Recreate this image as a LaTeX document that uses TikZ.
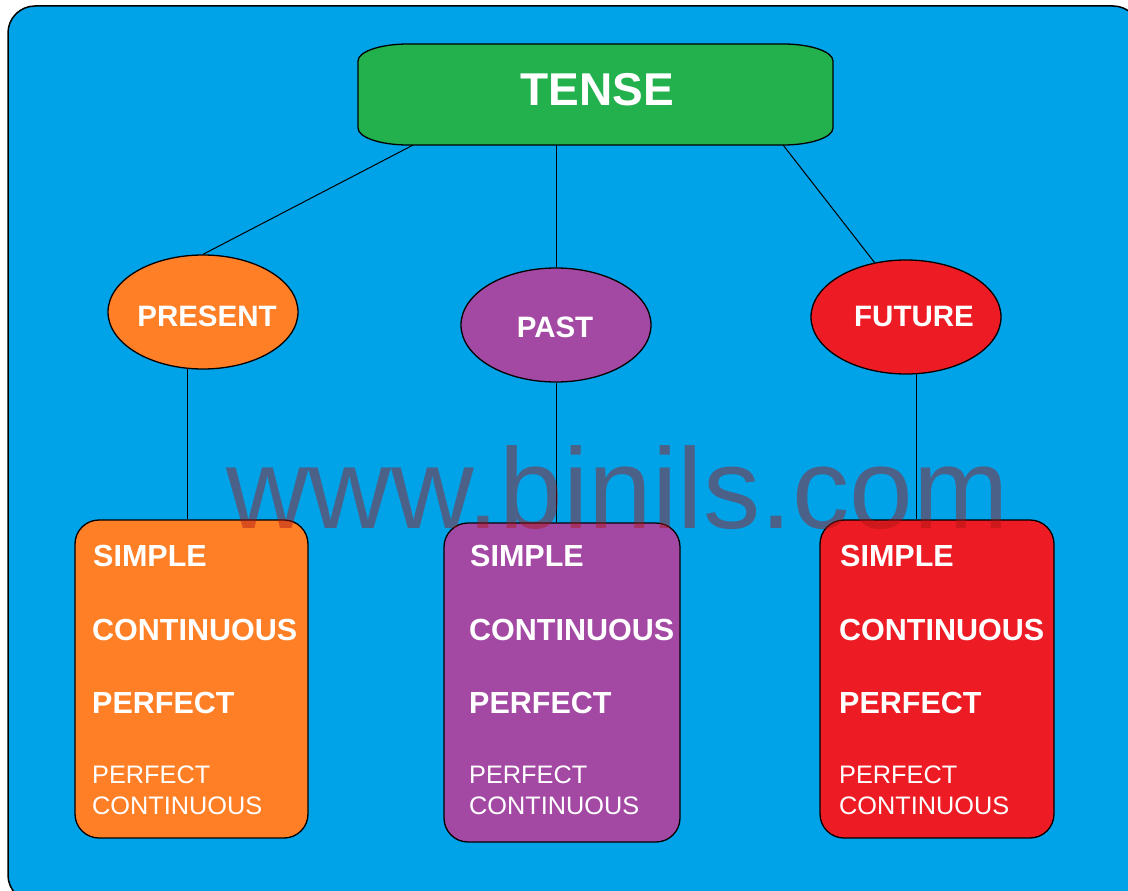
\documentclass[tikz,border=0pt]{standalone}
\usepackage{fontspec}
\setmainfont{Liberation Sans}
\usetikzlibrary{shapes.geometric}
\definecolor{bgblue}{RGB}{0,162,232}
\definecolor{tgreen}{RGB}{34,177,76}
\definecolor{torange}{RGB}{255,127,39}
\definecolor{tpurple}{RGB}{163,73,164}
\definecolor{tred}{RGB}{237,28,36}
\definecolor{wmark}{RGB}{170,20,20}
\begin{document}
\begin{tikzpicture}[x=1pt,y=-1pt,
 conn/.style={draw=black, line width=1pt},
 oval/.style={ellipse, draw=black, line width=1.3pt, minimum width=190pt, minimum height=114pt, inner sep=0pt},
 tbox/.style={draw=black, line width=1.3pt, rounded corners=24pt, inner sep=0pt},
 lab/.style={text=white, font=\fontsize{29.5}{29.5}\selectfont\bfseries, inner sep=0pt, anchor=base},
 item/.style={text=white, font=\fontsize{30.5}{30.5}\selectfont\bfseries, anchor=base west, inner sep=0pt},
 itemr/.style={text=white, font=\fontsize{25.3}{25.3}\selectfont, anchor=base west, inner sep=0pt},
]
\useasboundingbox (0,0) rectangle (1128,891);
\fill[white] (0,0) rectangle (1128,891);
\begin{scope}
\clip (0,0) rectangle (1128,891);
\draw[fill=bgblue, line width=1.5pt, rounded corners=27pt] (8,6) rectangle (1140,902);
\end{scope}

% top node
\node[minimum width=475pt, minimum height=101pt, inner sep=0pt] (tense) at (595.5,94.5) {};
\draw[fill=tgreen, line width=1.3pt]
 (408,44) -- (783,44) arc[start angle=-90, end angle=0, x radius=50, y radius=17]
 -- (833,128) arc[start angle=0, end angle=90, x radius=50, y radius=17]
 -- (408,145) arc[start angle=90, end angle=180, x radius=50, y radius=17]
 -- (358,61) arc[start angle=180, end angle=270, x radius=50, y radius=17] -- cycle;
\node[text=white, font=\fontsize{46}{46}\selectfont\bfseries, inner sep=0pt, anchor=base] (tensetext) at (597,106) {TENSE};

% ellipses
\node[oval, fill=torange] (pres) at (203,312) {};
\node[oval, fill=tpurple] (past) at (556,325) {};
\node[oval, fill=tred] (fut) at (906,317) {};
\node[lab] (prestext) at (207,326) {PRESENT};
\node[lab] (pasttext) at (555,337) {PAST};
\node[lab] (futtext) at (914,326) {FUTURE};

% boxes
\node[tbox, fill=torange, minimum width=233pt, minimum height=318pt] (pbox) at (191.5,679) {};
\node[tbox, fill=tpurple, minimum width=236pt, minimum height=319pt] (qbox) at (562,682.5) {};
\node[tbox, fill=tred, minimum width=234pt, minimum height=318pt] (rbox) at (937,679) {};

% connectors
\draw[conn] ([xshift=55pt]tense.south west) -- (pres.north);
\draw[conn] (past.north |- tense.south) -- (past.north);
\draw[conn] ([xshift=-50pt]tense.south east) -- (fut.120);
\draw[conn] (pres.-105) -- (pres.-105 |- pbox.north);
\draw[conn] (past.south) -- (past.south |- qbox.north);
\draw[conn] (fut.-80) -- (fut.-80 |- rbox.north);

% box texts
\node[item] (p1) at (93,566) {SIMPLE};
\node[item] (p2) at (92,640) {CONTINUOUS};
\node[item] (p3) at (92,713) {PERFECT};
\node[itemr] (p4) at (92,783) {PERFECT};
\node[itemr] (p5) at (92,814) {CONTINUOUS};

\node[item] (q1) at (470,566) {SIMPLE};
\node[item] (q2) at (469,640) {CONTINUOUS};
\node[item] (q3) at (469,713) {PERFECT};
\node[itemr] (q4) at (469,783) {PERFECT};
\node[itemr] (q5) at (469,814) {CONTINUOUS};

\node[item] (r1) at (840,566) {SIMPLE};
\node[item] (r2) at (839,640) {CONTINUOUS};
\node[item] (r3) at (839,713) {PERFECT};
\node[itemr] (r4) at (839,783) {PERFECT};
\node[itemr] (r5) at (839,814) {CONTINUOUS};

% watermark
\node[text=wmark, text opacity=0.45, font=\fontsize{114.5}{114.5}\selectfont, anchor=base west, inner sep=0pt] (wm) at (226,528) {www.binils.com};
\end{tikzpicture}
\end{document}
